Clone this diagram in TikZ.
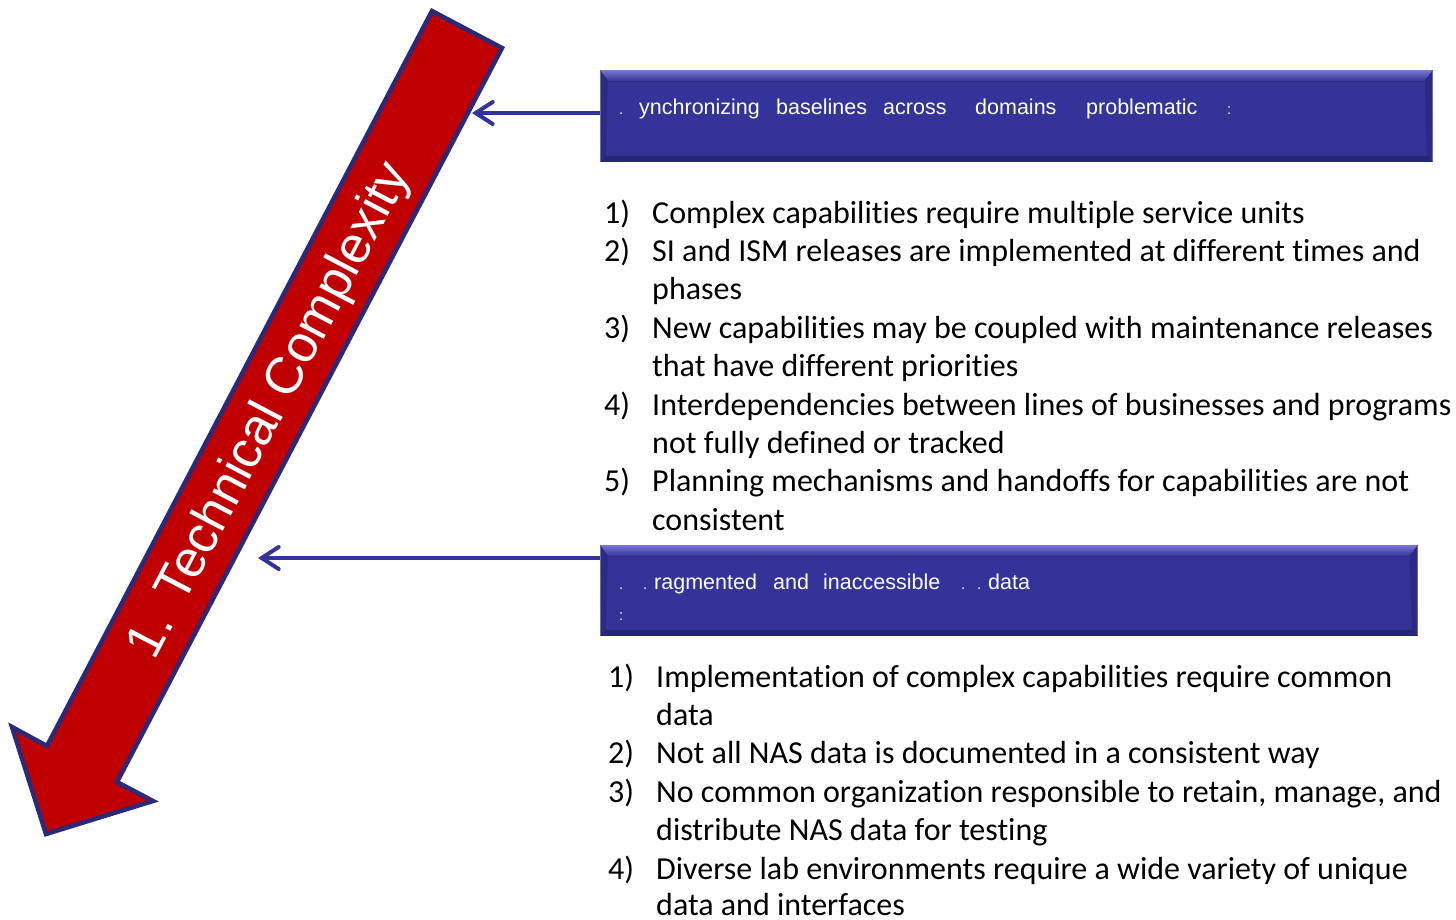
\documentclass[tikz,border=0pt]{standalone}
\usepackage{fontspec}
\setmainfont{Liberation Sans}
\newfontfamily\calib[Ligatures=NoCommon,RawFeature={-liga;-clig;-calt;-dlig}]{Carlito}
\usetikzlibrary{arrows.meta,calc}
\definecolor{boxblue}{RGB}{51,51,153}
\definecolor{bevtop}{RGB}{120,120,215}
\definecolor{bevbot}{RGB}{38,38,118}
\definecolor{redarrow}{RGB}{192,0,0}
\definecolor{navy}{RGB}{42,42,120}
\definecolor{connblue}{RGB}{51,51,153}
\tikzset{
  bluebox/.style={fill=boxblue, draw=black!15, line width=0.8pt, inner sep=0pt, anchor=north west},
  bigarrow/.style={fill=redarrow, draw=navy, line width=4.5pt},
  conn/.style={draw=connblue, line width=4pt, -{Straight Barb[length=17pt,width=22pt,line cap=round]}},
  boxword/.style={anchor=base west, inner sep=0pt, text=white, font=\fontsize{21.5}{26}\selectfont},
  tinyword/.style={anchor=base west, inner sep=0pt, text=white, font=\fontsize{15}{18}\selectfont},
  listnum/.style={anchor=base west, inner sep=0pt, font=\calib\fontsize{32}{38}\selectfont},
  listtxt/.style={anchor=base west, inner sep=0pt, font=\calib\fontsize{32}{38}\selectfont},
  arrowlabel/.style={text=white, inner sep=0pt, rotate=62.3, font=\fontsize{52}{60}\selectfont}
}
\newcommand{\bevel}[1]{%
  \fill[top color=bevtop, bottom color=boxblue] (#1.north west) -- (#1.north east) -- ($(#1.north east)+(-8,11)$) -- ($(#1.north west)+(8,11)$) -- cycle;
  \fill[bevbot] (#1.south west) -- (#1.south east) -- ($(#1.south east)+(-6,-6)$) -- ($(#1.south west)+(6,-6)$) -- cycle;
  \fill[bevbot, opacity=0.6] (#1.north west) -- ($(#1.north west)+(8,11)$) -- ($(#1.south west)+(6,-6)$) -- (#1.south west) -- cycle;
  \fill[bevbot, opacity=0.6] (#1.north east) -- ($(#1.north east)+(-8,11)$) -- ($(#1.south east)+(-6,-6)$) -- (#1.south east) -- cycle;
}
\begin{document}
\begin{tikzpicture}[x=1pt,y=-1pt]
\useasboundingbox (0,0) rectangle (1456,919);

% big arrow
\draw[bigarrow] (432,11) -- (502,48) -- (117,782) -- (153,801) -- (46,834) -- (12,727) -- (47,746) -- cycle;
\node[arrowlabel] (title) at (271,411) {1. Technical Complexity};

% boxes
\node[bluebox, minimum width=832pt, minimum height=91pt] (box1) at (600,70) {};
\bevel{box1}
\node[bluebox, minimum width=817pt, minimum height=90pt] (box2) at (600,545) {};
\bevel{box2}

% connector targets
\coordinate (t1) at (472,113);
\coordinate (t2) at (258,558);
\draw[conn] (box1.west |- t1) -- (t1);
\draw[conn] (box2.west |- t2) -- (t2);

% box 1 text
\node[tinyword] (b1a) at (619,114) {.};
\node[boxword] (b1b) at (639,114) {ynchronizing};
\node[boxword] (b1c) at (776,114) {baselines};
\node[boxword] (b1d) at (883,114) {across};
\node[boxword] (b1e) at (975,114) {domains};
\node[boxword] (b1f) at (1086,114) {problematic};
\node[tinyword] (b1g) at (1227,114) {:};

% box 2 text
\node[tinyword] (b2a) at (619,589) {.};
\node[tinyword] (b2b) at (643,589) {.};
\node[boxword] (b2c) at (654,589) {ragmented};
\node[boxword] (b2d) at (773,589) {and};
\node[boxword] (b2e) at (823,589) {inaccessible};
\node[tinyword] (b2f) at (961,589) {.};
\node[tinyword] (b2g) at (977,589) {.};
\node[boxword] (b2h) at (988,589) {data};
\node[tinyword] (b2i) at (619,620) {:};

% list 1
\node[listnum] (n11) at (604,223) {1)};
\node[listtxt] (l11) at (652,223) {Complex capabilities require multiple service units};
\node[listnum] (n12) at (604,261) {2)};
\node[listtxt] (l12) at (652,261) {SI and ISM releases are implemented at different times and};
\node[listtxt] (l12b) at (652,299) {phases};
\node[listnum] (n13) at (604,338) {3)};
\node[listtxt] (l13) at (652,338) {New capabilities may be coupled with maintenance releases};
\node[listtxt] (l13b) at (652,376) {that have different priorities};
\node[listnum] (n14) at (604,415) {4)};
\node[listtxt] (l14) at (652,415) {Interdependencies between lines of businesses and programs};
\node[listtxt] (l14b) at (652,453) {not fully defined or tracked};
\node[listnum] (n15) at (604,491) {5)};
\node[listtxt] (l15) at (652,491) {Planning mechanisms and handoffs for capabilities are not};
\node[listtxt] (l15b) at (652,530) {consistent};

% list 2
\node[listnum] (n21) at (608,687) {1)};
\node[listtxt] (l21) at (656,687) {Implementation of complex capabilities require common};
\node[listtxt] (l21b) at (656,725) {data};
\node[listnum] (n22) at (608,763) {2)};
\node[listtxt] (l22) at (656,763) {Not all NAS data is documented in a consistent way};
\node[listnum] (n23) at (608,802) {3)};
\node[listtxt] (l23) at (656,802) {No common organization responsible to retain, manage, and};
\node[listtxt] (l23b) at (656,840) {distribute NAS data for testing};
\node[listnum] (n24) at (608,879) {4)};
\node[listtxt] (l24) at (656,879) {Diverse lab environments require a wide variety of unique};
\node[listtxt] (l24b) at (656,915) {data and interfaces};
\end{tikzpicture}
\end{document}
